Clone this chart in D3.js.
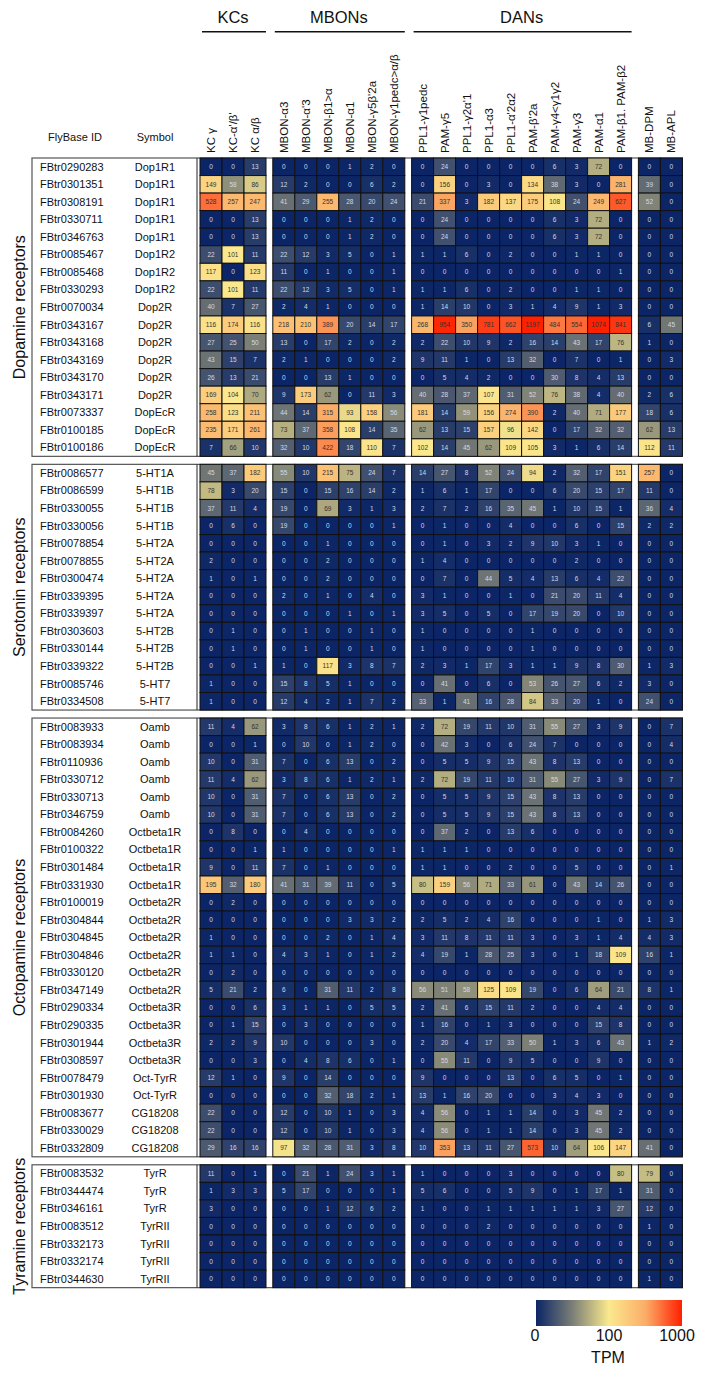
<!DOCTYPE html>
<html><head><meta charset="utf-8">
<script src="https://cdn.jsdelivr.net/npm/d3@7"></script>
<style>body{margin:0;background:#fff} text{font-family:"Liberation Sans",Arial,sans-serif}</style>
</head><body><svg id="c" width="708" height="1379"></svg>
<script>
const kcCols = ["KC γ", "KC-α'/β'", "KC α/β"];
const mbonCols = ["MBON-α3", "MBON-α'3", "MBON-β1>α", "MBON-α1", "MBON-γ5β'2a", "MBON-γ1pedc>α/β"];
const danCols = ["PPL1-γ1pedc", "PAM-γ5", "PPL1-γ2α'1", "PPL1-α3", "PPL1-α'2α2", "PAM-β'2a", "PAM-γ4<γ1γ2", "PAM-γ3", "PAM-α1", "PAM-β1. PAM-β2"];
const otherCols = ["MB-DPM", "MB-APL"];
const groupNames = ["KCs", "MBONs", "DANs", ""];

const dopamineIds = ["FBtr0290283","FBtr0301351","FBtr0308191","FBtr0330711","FBtr0346763","FBtr0085467","FBtr0085468","FBtr0330293","FBtr0070034","FBtr0343167","FBtr0343168","FBtr0343169","FBtr0343170","FBtr0343171","FBtr0073337","FBtr0100185","FBtr0100186"];
const dopamineSymbols = ["Dop1R1","Dop1R1","Dop1R1","Dop1R1","Dop1R1","Dop1R2","Dop1R2","Dop1R2","Dop2R","Dop2R","Dop2R","Dop2R","Dop2R","Dop2R","DopEcR","DopEcR","DopEcR"];
const dopamineValues = [
[0,0,13, 0,0,0,1,2,0, 0,24,0,0,0,0,6,3,72,0, 0,0],
[149,58,86, 12,2,0,0,6,2, 0,156,0,3,0,134,38,3,0,281, 39,0],
[528,257,247, 41,29,255,28,20,24, 21,337,3,182,137,175,108,24,249,627, 52,0],
[0,0,13, 0,0,0,1,2,0, 0,24,0,0,0,0,6,3,72,0, 0,0],
[0,0,13, 0,0,0,1,2,0, 0,24,0,0,0,0,6,3,72,0, 0,0],
[22,101,11, 22,12,3,5,0,1, 1,1,6,0,2,0,0,1,1,0, 0,0],
[117,0,123, 11,0,1,0,0,1, 0,0,0,0,0,0,0,0,0,1, 0,0],
[22,101,11, 22,12,3,5,0,1, 1,1,6,0,2,0,0,1,1,0, 0,0],
[40,7,27, 2,4,1,0,0,0, 1,14,10,0,3,1,4,9,1,3, 0,0],
[116,174,116, 218,210,389,20,14,17, 268,954,350,781,662,1197,484,554,1074,841, 6,45],
[27,25,50, 13,0,17,2,0,2, 2,22,10,9,2,16,14,43,17,76, 1,0],
[43,15,7, 2,1,0,0,0,2, 9,11,1,0,13,32,0,7,0,1, 0,3],
[26,13,21, 0,0,13,1,0,0, 0,5,4,2,0,0,30,8,4,13, 0,0],
[169,104,70, 9,173,62,0,11,3, 40,28,37,107,31,52,76,38,4,40, 2,6],
[258,123,211, 44,14,315,93,158,56, 181,14,59,156,274,390,2,40,71,177, 18,6],
[235,171,261, 73,37,358,108,14,35, 62,13,15,157,96,142,0,17,32,32, 62,13],
[7,66,10, 32,10,422,18,110,7, 102,14,45,62,109,105,3,1,6,14, 112,11]];

const serotoninIds = ["FBtr0086577","FBtr0086599","FBtr0330055","FBtr0330056","FBtr0078854","FBtr0078855","FBtr0300474","FBtr0339395","FBtr0339397","FBtr0303603","FBtr0330144","FBtr0339322","FBtr0085746","FBtr0334508"];
const serotoninSymbols = ["5-HT1A","5-HT1B","5-HT1B","5-HT1B","5-HT2A","5-HT2A","5-HT2A","5-HT2A","5-HT2A","5-HT2B","5-HT2B","5-HT2B","5-HT7","5-HT7"];
const serotoninValues = [
[45,37,182, 55,10,215,75,24,7, 14,27,8,52,24,94,2,32,17,151, 257,0],
[78,3,20, 15,0,15,16,14,2, 1,6,1,17,0,0,6,20,15,17, 11,0],
[37,11,4, 19,0,69,3,1,3, 2,7,2,16,35,45,1,10,15,1, 36,4],
[0,6,0, 19,0,0,0,0,1, 0,1,0,0,4,0,0,6,0,15, 2,2],
[0,0,0, 0,0,1,0,0,0, 0,1,0,3,2,9,10,3,1,0, 0,0],
[2,0,0, 0,0,2,0,0,0, 1,4,0,0,0,0,0,2,0,0, 0,0],
[1,0,1, 0,0,2,0,0,0, 0,7,0,44,5,4,13,6,4,22, 0,0],
[0,0,0, 2,0,1,0,4,0, 3,1,0,0,1,0,21,20,11,4, 0,0],
[0,0,0, 0,0,0,1,0,1, 3,5,0,5,0,17,19,20,0,10, 0,0],
[0,1,0, 0,1,0,0,1,0, 1,0,0,0,0,1,0,0,0,0, 0,0],
[0,1,0, 0,1,0,0,1,0, 1,0,0,0,0,1,0,0,0,0, 0,0],
[0,0,1, 1,0,117,3,8,7, 2,3,1,17,3,1,1,9,8,30, 1,3],
[1,0,0, 15,8,5,1,0,0, 0,41,0,6,0,53,26,27,6,2, 3,0],
[1,0,0, 12,4,2,1,7,2, 33,1,41,16,28,84,33,20,1,0, 24,0]];

const octopamineIds = ["FBtr0083933","FBtr0083934","FBtr0110936","FBtr0330712","FBtr0330713","FBtr0346759","FBtr0084260","FBtr0100322","FBtr0301484","FBtr0331930","FBtr0100019","FBtr0304844","FBtr0304845","FBtr0304846","FBtr0330120","FBtr0347149","FBtr0290334","FBtr0290335","FBtr0301944","FBtr0308597","FBtr0078479","FBtr0301930","FBtr0083677","FBtr0330029","FBtr0332809"];
const octopamineSymbols = ["Oamb","Oamb","Oamb","Oamb","Oamb","Oamb","Octbeta1R","Octbeta1R","Octbeta1R","Octbeta1R","Octbeta2R","Octbeta2R","Octbeta2R","Octbeta2R","Octbeta2R","Octbeta2R","Octbeta3R","Octbeta3R","Octbeta3R","Octbeta3R","Oct-TyrR","Oct-TyrR","CG18208","CG18208","CG18208"];
const octopamineValues = [
[11,4,62, 3,8,6,1,2,1, 2,72,19,11,10,31,55,27,3,9, 0,7],
[0,0,1, 0,10,0,1,2,0, 0,42,3,0,6,24,7,0,0,0, 0,4],
[10,0,31, 7,0,6,13,0,2, 0,5,5,9,15,43,8,13,0,0, 0,0],
[11,4,62, 3,8,6,1,2,1, 2,72,19,11,10,31,55,27,3,9, 0,7],
[10,0,31, 7,0,6,13,0,2, 0,5,5,9,15,43,8,13,0,0, 0,0],
[10,0,31, 7,0,6,13,0,2, 0,5,5,9,15,43,8,13,0,0, 0,0],
[0,8,0, 0,4,0,0,0,0, 0,37,2,0,13,6,0,0,0,0, 0,0],
[0,0,1, 1,0,0,0,0,1, 1,1,1,0,0,0,0,0,0,0, 0,0],
[9,0,11, 7,0,1,0,0,0, 1,1,0,0,2,0,0,5,0,0, 0,1],
[195,32,180, 41,31,39,11,0,5, 80,159,56,71,33,61,0,43,14,26, 0,0],
[0,2,0, 0,0,0,0,0,0, 0,0,0,0,0,0,0,0,0,0, 0,0],
[0,0,0, 0,0,0,3,3,2, 2,5,2,4,16,0,0,0,1,0, 1,3],
[1,0,0, 0,0,2,0,1,4, 3,11,8,11,11,3,0,3,1,4, 4,3],
[1,1,0, 4,3,1,0,1,2, 4,19,1,28,25,3,0,1,18,109, 16,1],
[0,2,0, 0,0,0,0,0,0, 0,0,0,0,0,0,0,0,0,0, 0,0],
[5,21,2, 6,0,31,11,2,8, 56,51,58,125,109,19,0,6,64,21, 8,1],
[0,0,6, 3,1,1,0,5,5, 2,41,6,15,11,2,0,0,4,4, 0,0],
[0,1,15, 0,3,0,0,0,0, 1,16,0,1,3,0,0,0,15,8, 0,0],
[2,2,9, 10,0,0,0,3,0, 2,20,4,17,33,50,1,3,6,43, 1,2],
[0,0,3, 0,4,8,6,0,1, 0,55,11,0,9,5,0,0,9,0, 0,0],
[12,1,0, 9,0,14,0,0,0, 9,0,0,0,13,0,6,5,0,1, 0,0],
[0,0,0, 0,0,32,18,2,1, 13,1,16,20,0,0,3,4,3,0, 0,0],
[22,0,0, 12,0,10,1,0,3, 4,56,0,1,1,14,0,3,45,2, 0,0],
[22,0,0, 12,0,10,1,0,3, 4,56,0,1,1,14,0,3,45,2, 0,0],
[29,16,16, 97,32,28,31,3,8, 10,353,13,11,27,573,10,64,106,147, 41,0]];

const tyramineIds = ["FBtr0083532","FBtr0344474","FBtr0346161","FBtr0083512","FBtr0332173","FBtr0332174","FBtr0344630"];
const tyramineSymbols = ["TyrR","TyrR","TyrR","TyrRII","TyrRII","TyrRII","TyrRII"];
const tyramineValues = [
[11,0,1, 0,21,1,24,3,1, 1,0,0,0,3,0,0,0,0,80, 79,0],
[1,3,3, 5,17,0,0,0,1, 5,6,0,0,5,9,0,1,17,1, 31,0],
[3,0,0, 0,0,1,12,6,2, 1,0,0,1,1,1,1,1,3,27, 12,0],
[0,0,0, 0,0,0,0,0,0, 0,0,0,2,0,0,0,0,0,0, 1,0],
[0,0,0, 0,0,0,0,0,0, 0,0,0,0,0,0,0,0,0,0, 0,0],
[0,0,0, 0,0,0,0,0,0, 0,0,0,0,0,0,0,0,0,0, 0,0],
[0,0,0, 0,0,0,0,0,0, 0,0,0,0,0,0,0,0,0,0, 1,0]];

const sectionNames = ["Dopamine receptors", "Serotonin receptors", "Octopamine receptors", "Tyramine receptors"];
const legendTicks = [0, 100, 1000];

// ---------- layout ----------
const svg = d3.select("#c");
const colGroups = [kcCols, mbonCols, danCols, otherCols];
const allCols = colGroups.flat();
const groupOf = allCols.map((c, i) => colGroups.findIndex(g => g.includes(c)));
const cellW = 22, groupGap = 6.8, rowH = 17.55, sectionGap = 8;
const x0 = 200;
const xIdx = d3.scaleLinear().domain([0, 1]).range([x0, x0 + cellW]);
const colX = allCols.map((c, i) => xIdx(i) + groupOf[i] * groupGap);

// color: linear 0-100 in first half, log 100-1000 in second half
const tPos = v => v <= 100 ? 0.5 * v / 100 : Math.min(1, 0.5 + 0.5 * Math.log10(v / 100));
const colorT = d3.scaleLinear().domain([0, 0.25, 0.5, 0.75, 1])
  .range(["#0b2566", "#7b7f76", "#fbe98e", "#fbad68", "#ff2000"]).interpolate(d3.interpolateRgb);
const color = v => colorT(tPos(v));

// group headers
const groupSpans = colGroups.map((g, gi) => {
  const idx = allCols.indexOf(g[0]);
  return [colX[idx], colX[idx + g.length - 1] + cellW];
});
groupNames.forEach((name, gi) => {
  if (!name) return;
  const [a, b] = groupSpans[gi];
  svg.append("line").attr("x1", a + 2).attr("x2", b).attr("y1", 31.7).attr("y2", 31.7)
    .attr("stroke", "#111").attr("stroke-width", 1.6);
  svg.append("text").attr("x", (a + b) / 2).attr("y", 22.7).attr("text-anchor", "middle")
    .attr("font-size", 16.5).attr("fill", "#111").text(name);
});
// column labels
allCols.forEach((c, i) => {
  svg.append("text").attr("transform", `translate(${colX[i] + cellW / 2 + 4},153) rotate(-90)`)
    .attr("font-size", 11.5).attr("fill", "#111").text(c);
});
// row header
svg.append("text").attr("x", 75).attr("y", 141).attr("text-anchor", "middle").attr("font-size", 11).attr("fill", "#111").text("FlyBase ID");
svg.append("text").attr("x", 155).attr("y", 141).attr("text-anchor", "middle").attr("font-size", 11).attr("fill", "#111").text("Symbol");

const sections = [
  [dopamineIds, dopamineSymbols, dopamineValues],
  [serotoninIds, serotoninSymbols, serotoninValues],
  [octopamineIds, octopamineSymbols, octopamineValues],
  [tyramineIds, tyramineSymbols, tyramineValues]];

let curTop = 158;
const rightEdge = colX[colX.length - 1] + cellW;
sections.forEach(([ids, syms, vals], si) => {
  const y = d3.scaleBand().domain(ids.map((d, i) => i)).range([curTop, curTop + ids.length * rowH]);
  const g = svg.append("g");
  const bottom = curTop + ids.length * rowH;
  g.append("rect").attr("x", 32).attr("y", curTop).attr("width", rightEdge - 32).attr("height", bottom - curTop)
    .attr("fill", "none").attr("stroke", "#555").attr("stroke-width", 1.2);
  g.append("line").attr("x1", 197).attr("x2", 197).attr("y1", curTop).attr("y2", bottom).attr("stroke", "#222");
  ids.forEach((id, r) => {
    const yc = y(r) + rowH / 2 + 3.8;
    g.append("text").attr("x", 40).attr("y", yc).attr("font-size", 11).attr("fill", "#111").text(id);
    g.append("text").attr("x", 155).attr("y", yc).attr("text-anchor", "middle").attr("font-size", 11).attr("fill", "#111").text(syms[r]);
    vals[r].forEach((v, c) => {
      g.append("rect").attr("x", colX[c]).attr("y", y(r)).attr("width", cellW).attr("height", rowH)
        .attr("fill", color(v)).attr("stroke", "#111").attr("stroke-width", 1);
      g.append("text").attr("x", colX[c] + cellW / 2).attr("y", y(r) + rowH / 2 + 2.3)
        .attr("text-anchor", "middle").attr("font-size", 6.5)
        .attr("fill", tPos(v) < 0.3 ? "#d2d8e6" : "#333").text(v);
    });
  });
  svg.append("text").attr("transform", `translate(25,${(curTop + bottom) / 2}) rotate(-90)`)
    .attr("text-anchor", "middle").attr("font-size", 16).attr("fill", "#111").text(sectionNames[si]);
  curTop = bottom + sectionGap;
});

// legend
const lx = d3.scaleLinear().domain([0, 1]).range([536, 682]);
const defs = svg.append("defs");
const grad = defs.append("linearGradient").attr("id", "lg");
d3.range(0, 1.0001, 0.05).forEach(t => grad.append("stop").attr("offset", t).attr("stop-color", colorT(t)));
svg.append("rect").attr("x", lx(0)).attr("y", 1300).attr("width", lx(1) - lx(0)).attr("height", 26).attr("fill", "url(#lg)");
legendTicks.forEach(v => {
  svg.append("text").attr("x", lx(tPos(v)) + (v === 0 ? -1 : v === 1000 ? -5 : 0)).attr("y", 1341)
    .attr("text-anchor", "middle").attr("font-size", 16).attr("fill", "#111").text(v);
});
svg.append("text").attr("x", 608).attr("y", 1363).attr("text-anchor", "middle").attr("font-size", 16).attr("fill", "#111").text("TPM");
</script></body></html>
